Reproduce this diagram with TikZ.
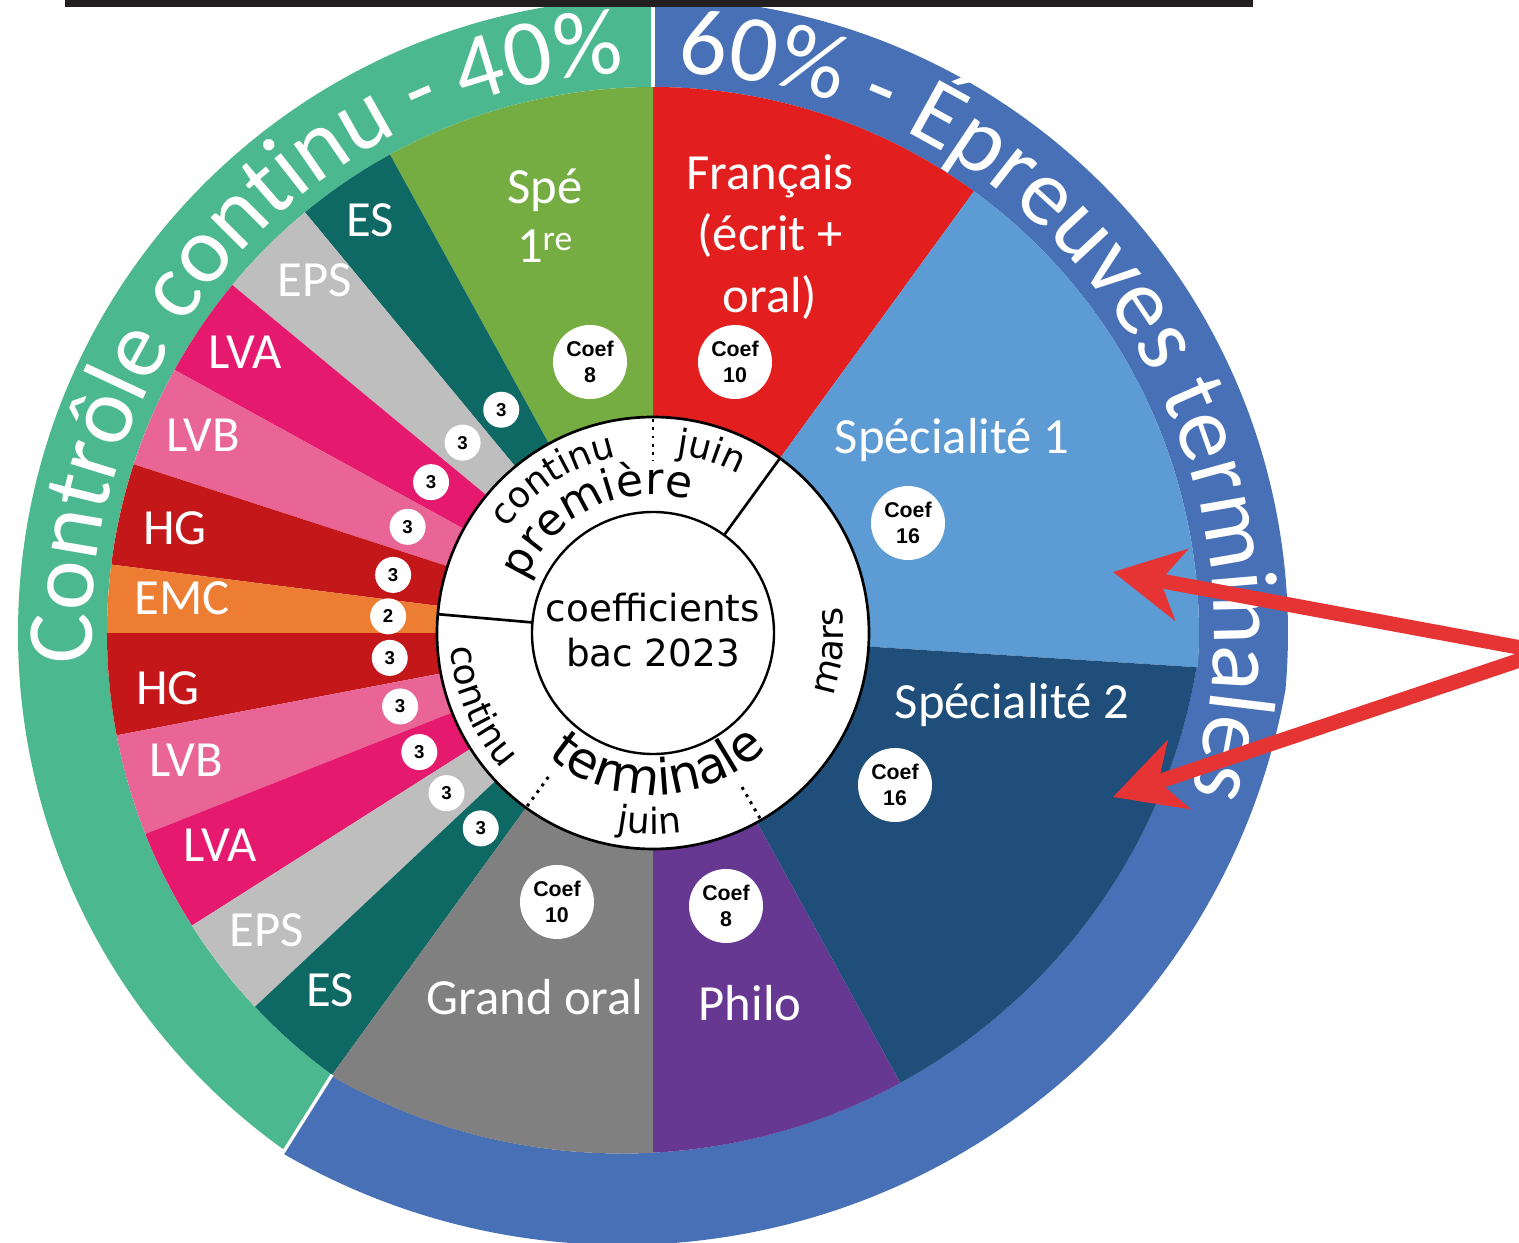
\documentclass[tikz,border=0pt]{standalone}
\usepackage{fontspec}
\setmainfont{Carlito}
\newfontfamily\dvfont{DejaVu Sans}
\newfontfamily\arfont{Liberation Sans}
\usetikzlibrary{decorations.text,arrows.meta}
\definecolor{ringG}{RGB}{76,184,143}
\definecolor{ringB}{RGB}{71,112,182}
\definecolor{cSpe}{RGB}{118,173,66}
\definecolor{cES}{RGB}{14,104,100}
\definecolor{cEPS}{RGB}{190,190,190}
\definecolor{cLVA}{RGB}{229,26,110}
\definecolor{cLVB}{RGB}{232,101,150}
\definecolor{cHG}{RGB}{196,23,26}
\definecolor{cEMC}{RGB}{236,125,50}
\definecolor{cGO}{RGB}{128,128,128}
\definecolor{cPhi}{RGB}{103,56,146}
\definecolor{cSpeB}{RGB}{32,78,122}
\definecolor{cSpeA}{RGB}{92,155,212}
\definecolor{cFr}{RGB}{227,30,30}
\definecolor{cArrow}{RGB}{230,52,52}
\definecolor{cBar}{RGB}{35,31,32}
\newcommand\ringfont{\fontsize{71}{80}\selectfont}
\newcommand\smallarcfont{\dvfont\fontsize{27}{27}\selectfont}
\newcommand\bigarcfont{\dvfont\fontsize{33}{33}\selectfont}
\newcommand\termfont{\dvfont\fontsize{37.5}{37.5}\selectfont}
\begin{document}
\begin{tikzpicture}[x=0.75pt,y=0.75pt,
  lab/.style={text=white,font=\fontsize{38}{46}\selectfont,inner sep=0pt,align=center},
  coefbadge/.style={circle,fill=white,minimum size=55.5pt,inner sep=0pt,align=center,
    font=\arfont\bfseries\fontsize{16}{19}\selectfont},
  smallbadge/.style={circle,fill=white,minimum size=27pt,inner sep=0pt,
    font=\arfont\bfseries\fontsize{14}{14}\selectfont},
  divider/.style={line width=2pt,black},
  dotdiv/.style={line width=2.2pt,black,dash pattern=on 2.2pt off 4pt},
  arrowline/.style={cArrow,line width=11pt,-{Stealth[length=52pt,width=54pt,inset=16pt]}}
]
\useasboundingbox (-653,-609) rectangle (866,633);
\clip (-653,-609) rectangle (866,633);

% outer rings
\fill[ringG] (90:635) arc[start angle=90,end angle=234.57,radius=635] -- (234:546)
  arc[start angle=234,end angle=90,radius=546] -- cycle;
\fill[ringB] (90:635) arc[start angle=90,end angle=-5.1,radius=635] -- (-5.1:546)
  arc[start angle=-5.1,end angle=90,radius=546] -- cycle;
\begin{scope}[shift={(-31,62)}]
  \fill[ringB] (239.8:674) arc[start angle=239.8,end angle=349.9,radius=674] -- (352:582.5)
    arc[start angle=352,end angle=240.08,radius=582.5] -- cycle;
\end{scope}

% sectors (upper / left part)
\foreach \a/\b/\c in {54/90/cFr, 90/118.8/cSpe, 118.8/129.6/cES, 129.6/140.4/cEPS,
  140.4/151.2/cLVA, 151.2/162/cLVB, 162/172.8/cHG, 172.8/180/cEMC, 180/190.8/cHG,
  190.8/201.6/cLVB, 201.6/212.4/cLVA, 212.4/223.2/cEPS, 223.2/234/cES, 356.4/414/cSpeA}
  \fill[\c] (0,0) -- (\a:546) arc[start angle=\a,end angle=\b,radius=546] -- cycle;
% sectors (lower part, flatter edge)
\begin{scope}
  \clip (-31,62) circle[radius=582.5];
  \foreach \a/\b/\c in {234/270/cGO, 270/298.8/cPhi, 298.8/356.4/cSpeB}
    \fill[\c] (0,0) -- (\a:900) arc[start angle=\a,end angle=\b,radius=900] -- cycle;
\end{scope}

% white separators of rings
\draw[white,line width=2.5pt] (90:546) -- (90:645);
\draw[white,line width=2.5pt] (-320.9,-441.7) -- (-377,-531);

% top bar
\fill[cBar] (-588,626) rectangle (600,640);

% ring texts
\path[decorate,decoration={text along path,text align=center,text color=white,
  text={|\ringfont|Contrôle continu - 40{\%}}}]
  (184.5:561) arc[start angle=184.5,end angle=91.5,radius=561];
\path[decorate,decoration={text along path,text align=left,text color=white,
  text={|\ringfont|60{\%} - Épreuves terminales}}]
  (87.5:561) arc[start angle=87.5,end angle=-40,radius=561];

% centre discs
\filldraw[fill=white,draw=black,line width=2pt] (0,0) circle[radius=216];
\draw[line width=1.8pt] (0,0) circle[radius=121];
\draw[divider] (54:121) -- (54:216);
\draw[divider] (175:121) -- (175:216);
\draw[dotdiv] (90:214) -- (90:172);
\draw[dotdiv] (234:214) -- (234:176);
\draw[dotdiv] (300:214) -- (300:176);

% inner ring texts
\path[decorate,decoration={text along path,text align=center,text={|\smallarcfont|continu}}]
  (163:180) arc[start angle=163,end angle=83,radius=180];
\path[decorate,decoration={text along path,text align=center,text={|\smallarcfont|juin}}]
  (92:180) arc[start angle=92,end angle=52,radius=180];
\path[decorate,decoration={text along path,text align=center,text={|\bigarcfont|première}}]
  (161:138) arc[start angle=161,end angle=71,radius=138];
\path[decorate,decoration={text along path,text align=center,text={|\smallarcfont|mars}}]
  (-25.7:190) arc[start angle=-25.7,end angle=14.3,radius=190];
\path[decorate,decoration={text along path,text align=center,text={|\smallarcfont|continu}}]
  (178:203) arc[start angle=178,end angle=228,radius=203];
\path[decorate,decoration={text along path,text align=center,text={|\smallarcfont|juin}}]
  (254:201) arc[start angle=254,end angle=284,radius=201];
\path[decorate,decoration={text along path,text align=center,text={|\termfont|terminale}}]
  (220:162) arc[start angle=220,end angle=324,radius=162];

\node[font=\dvfont\fontsize{28}{34}\selectfont,align=center,inner sep=0pt] (ctr) at (0,3)
  {coefficients\\bac 2023};

% sector labels
\node[lab] (lES1) at (-283,413) {ES};
\node[lab] (lEPS1) at (-338,353) {EPS};
\node[lab] (lLVA1) at (-408,281) {LVA};
\node[lab] (lLVB1) at (-450,198) {LVB};
\node[lab] (lHG1) at (-478,105) {HG};
\node[lab] (lEMC) at (-471,35) {EMC};
\node[lab] (lHG2) at (-485,-55) {HG};
\node[lab] (lLVB2) at (-467,-127) {LVB};
\node[lab] (lLVA2) at (-433,-212) {LVA};
\node[lab] (lEPS2) at (-386,-297) {EPS};
\node[lab] (lES2) at (-323,-357) {ES};
\node[lab,font=\fontsize{38}{44}\selectfont] (lSpe) at (-108,417) {Spé\\1\textsuperscript{re}};
\node[lab] (lFr) at (117,396) {Français\\(écrit +\\oral)};
\node[lab] (lSpeA) at (299,193) {Spécialité 1};
\node[lab] (lSpeB) at (359,-72) {Spécialité 2};
\node[lab] (lGO) at (-118,-364) {Grand oral};
\node[lab] (lPhi) at (97,-370) {Philo};

% coefficient badges
\node[coefbadge] (bSpe) at (-63,271) {Coef\\8};
\node[coefbadge] (bFr) at (82,271) {Coef\\10};
\node[coefbadge] (bSpeA) at (255,110) {Coef\\16};
\node[coefbadge] (bSpeB) at (242,-152) {Coef\\16};
\node[coefbadge] (bGO) at (-96,-269) {Coef\\10};
\node[coefbadge] (bPhi) at (73,-273) {Coef\\8};
\foreach \a/\v [count=\i] in {124.2/3,135/3,145.8/3,156.6/3,167.4/3,176.4/2,185.4/3,
  196.2/3,207/3,217.8/3,228.6/3}
  \node[smallbadge] (sb\i) at (\a:{265+6*sin(\a)}) {\v};

% arrows
\coordinate (apex) at (891,-19);
\coordinate (tip1) at (460,61);
\coordinate (tip2) at (460,-164);
\draw[arrowline] (apex) -- (tip1);
\draw[arrowline] (apex) -- (tip2);
\end{tikzpicture}
\end{document}
